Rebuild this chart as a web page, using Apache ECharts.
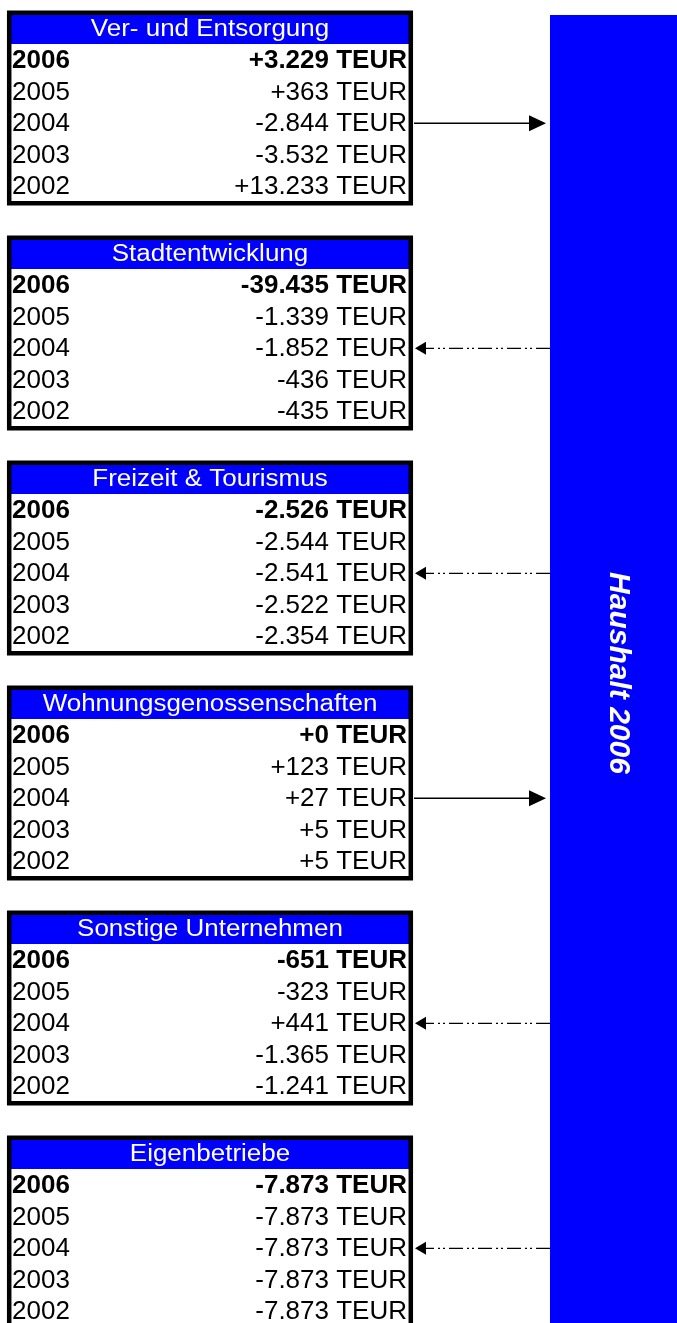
<!DOCTYPE html>
<html>
<head>
<meta charset="utf-8">
<script src="https://cdn.jsdelivr.net/npm/echarts@6/dist/echarts.min.js"></script>
<style>
  html, body { margin: 0; padding: 0; background: #fff; }
  #main { width: 677px; height: 1323px; }
</style>
</head>
<body>
<div id="main"></div>
<script>
// Bereiche und Jahre
var sections = ['Ver- und Entsorgung', 'Stadtentwicklung', 'Freizeit & Tourismus',
                'Wohnungsgenossenschaften', 'Sonstige Unternehmen', 'Eigenbetriebe'];
var years = ['2006', '2005', '2004', '2003', '2002'];

// Werte in TEUR, Reihenfolge wie years
var verEntsorgung = [3229, 363, -2844, -3532, 13233];
var stadtentwicklung = [-39435, -1339, -1852, -436, -435];
var freizeitTourismus = [-2526, -2544, -2541, -2522, -2354];
var wohnungsgenossenschaften = [0, 123, 27, 5, 5];
var sonstigeUnternehmen = [-651, -323, 441, -1365, -1241];
var eigenbetriebe = [-7873, -7873, -7873, -7873, -7873];

// Richtung des Pfeils: 'in' = zum Haushalt, 'out' = vom Haushalt
var flows = ['in', 'out', 'out', 'in', 'out', 'out'];
var mainTitle = 'Haushalt 2006';

var values = [verEntsorgung, stadtentwicklung, freizeitTourismus,
              wohnungsgenossenschaften, sonstigeUnternehmen, eigenbetriebe];

var BLUE = '#0000ff';
var FONT = '"Liberation Sans", Arial, sans-serif';

function fmt(v) {
	var s = String(Math.abs(v)).replace(/\B(?=(\d{3})+(?!\d))/g, '.');
	return (v < 0 ? '-' : '+') + s + ' TEUR';
}

// Layout (Pixel-Einheiten der versteckten Achsen)
var headTop = 15, tableStep = 225, headH = 29, tableLeft = 7, tableRight = 413;
var rowFirst = 45, rowStep = 31.4, bodyH = 157;
var barLeft = 550;

var myChart = echarts.init(document.getElementById('main'));

function renderTable(params, api) {
	var i = params.dataIndex;
	var top = headTop + i * tableStep;
	// Rahmen (Mitte der Linie)
	var p0 = api.coord([tableLeft + 2.2, top - 2.2]);
	var p1 = api.coord([tableRight - 2.2, top + headH + bodyH + 2.2]);
	var h0 = api.coord([tableLeft, top]);
	var h1 = api.coord([tableRight, top + headH]);
	var children = [];
	children.push({ type: 'rect', shape: { x: p0[0], y: p0[1], width: p1[0] - p0[0], height: p1[1] - p0[1] },
		style: { fill: '#fff' } });
	children.push({ type: 'rect', shape: { x: h0[0], y: h0[1], width: h1[0] - h0[0], height: h1[1] - h0[1] },
		style: { fill: BLUE } });
	var hc = api.coord([(tableLeft + tableRight) / 2, top + 15]);
	children.push({ type: 'text', x: hc[0], y: hc[1], scaleX: 1.13,
		style: { text: sections[i], fill: '#fff', font: '23px ' + FONT, align: 'center', verticalAlign: 'middle' } });
	for (var r = 0; r < years.length; r++) {
		var y = top + rowFirst + 1.5 + r * rowStep;
		var weight = r === 0 ? 'bold ' : '';
		var yl = api.coord([12, y]);
		var vr = api.coord([407, y]);
		children.push({ type: 'text', x: yl[0], y: yl[1], scaleX: 1.04,
			style: { text: years[r], fill: '#000', font: weight + '25px ' + FONT, align: 'left', verticalAlign: 'middle' } });
		children.push({ type: 'text', x: vr[0], y: vr[1], scaleX: 1.04,
			style: { text: fmt(values[i][r]), fill: '#000', font: weight + '25px ' + FONT, align: 'right', verticalAlign: 'middle' } });
	}
	children.push({ type: 'rect', shape: { x: p0[0], y: p0[1], width: p1[0] - p0[0], height: p1[1] - p0[1] },
		style: { fill: null, stroke: '#000', lineWidth: 4.5 } });
	return { type: 'group', children: children };
}

function renderArrow(params, api) {
	var i = params.dataIndex;
	var y = headTop + i * tableStep + rowFirst + 2 * rowStep + 0.5;
	var a = api.coord([tableRight, y]);
	var b = api.coord([barLeft, y]);
	if (flows[i] === 'in') {
		return { type: 'group', children: [
			{ type: 'line', shape: { x1: a[0] + 1, y1: a[1], x2: b[0] - 20, y2: b[1] },
				style: { stroke: '#000', lineWidth: 1.5 } },
			{ type: 'polygon', shape: { points: [[b[0] - 4, b[1]], [b[0] - 21, b[1] - 8], [b[0] - 21, b[1] + 8]] },
				style: { fill: '#000' } }
		] };
	}
	return { type: 'group', children: [
		{ type: 'line', shape: { x1: b[0], y1: b[1], x2: a[0] + 12, y2: a[1] },
			style: { stroke: '#000', lineWidth: 1.3, lineDash: [14, 4, 2, 3, 2, 4] } },
		{ type: 'polygon', shape: { points: [[a[0] + 2, a[1]], [a[0] + 13, a[1] - 6.5], [a[0] + 13, a[1] + 6.5]] },
			style: { fill: '#000' } }
	] };
}

function renderMain(params, api) {
	var p0 = api.coord([barLeft, 15]);
	var p1 = api.coord([677, 1323]);
	var c = api.coord([618, 673]);
	return { type: 'group', children: [
		{ type: 'rect', shape: { x: p0[0], y: p0[1], width: p1[0] - p0[0], height: p1[1] - p0[1] },
			style: { fill: BLUE } },
		{ type: 'text', x: c[0], y: c[1], rotation: -Math.PI / 2,
			style: { text: mainTitle, fill: '#fff', font: 'italic bold 30px ' + FONT, align: 'center', verticalAlign: 'middle' } }
	] };
}

var option = {
	animation: false,
	backgroundColor: '#fff',
	grid: { left: 0, right: 0, top: 0, bottom: 0 },
	xAxis: { type: 'value', min: 0, max: 677, show: false },
	yAxis: { type: 'value', min: 0, max: 1323, inverse: true, show: false },
	series: [
		{ type: 'custom', name: 'haushalt', renderItem: renderMain, data: [[0, 0]], silent: true },
		{ type: 'custom', name: 'pfeile', renderItem: renderArrow, data: flows.map(function (f, i) { return [i, 0]; }), silent: true },
		{ type: 'custom', name: 'tabellen', renderItem: renderTable, data: sections.map(function (s, i) { return [i, 0]; }), silent: true }
	]
};
myChart.setOption(option);
</script>
</body>
</html>
